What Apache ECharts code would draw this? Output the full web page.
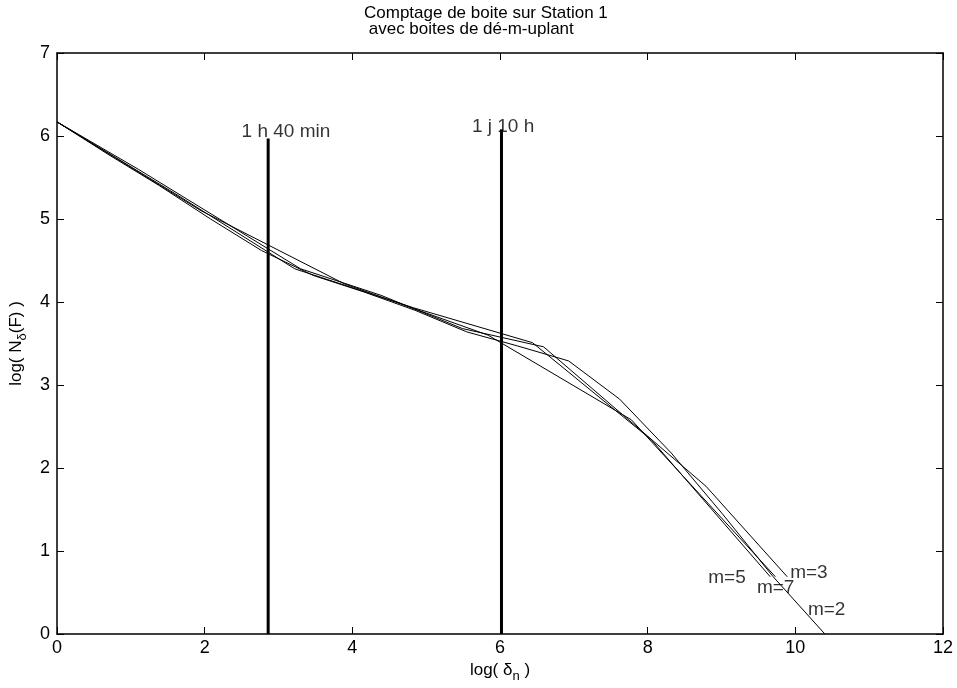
<!DOCTYPE html>
<html>
<head>
<meta charset="utf-8">
<script src="https://cdn.jsdelivr.net/npm/echarts@6/dist/echarts.min.js"></script>
<style>html,body{margin:0;padding:0;background:#fff}#c{width:957px;height:688px}</style>
</head>
<body>
<div id="c"></div>
<script>
// Series values: x = log(delta_n), y = log(N_delta(F))
const m2X = [0, 0.69, 1.39, 2.08, 2.77, 3.47, 4.16, 4.85, 5.55, 6.24, 6.93, 7.62, 8.32, 9.01, 9.70, 10.40];
const m2Y = [6.17, 5.78, 5.40, 5.00, 4.62, 4.32, 4.12, 3.90, 3.64, 3.47, 3.29, 2.83, 2.18, 1.45, 0.69, 0];
const m3X = [0, 1.10, 2.20, 3.30, 4.39, 5.49, 6.59, 7.69, 8.79, 9.89];
const m3Y = [6.17, 5.60, 5.00, 4.40, 4.08, 3.68, 3.46, 2.62, 1.78, 0.69];
const m5X = [0, 1.61, 3.22, 4.83, 6.44, 8.05, 9.66];
const m5Y = [6.17, 5.30, 4.40, 3.93, 3.51, 2.34, 0.69];
const m7X = [0, 1.95, 3.89, 5.84, 7.78, 9.73];
const m7Y = [6.17, 5.10, 4.22, 3.60, 2.58, 0.69];

// Marker lines (time scales)
const markerNames = ['1 h 40 min', '1 j 10 h'];
const markerX = [2.86, 6.02];
const markerTop = [5.97, 6.08];
const markerLabelX = [2.50, 5.62];
const markerLabelY = [6.05, 6.11];

// Curve labels
const curveLabels = ['m=5', 'm=7', 'm=3', 'm=2'];
const curveLabelX = [8.82, 9.48, 9.93, 10.17];
const curveLabelY = [0.68, 0.56, 0.74, 0.29];

const xTicks = [0, 2, 4, 6, 8, 10, 12];
const yTicks = [0, 1, 2, 3, 4, 5, 6, 7];

const FONT = 'Liberation Sans, Arial, Helvetica, sans-serif';
const zip = (xs, ys) => xs.map((x, i) => [x, ys[i]]);

const curveSeries = [[m2X, m2Y], [m3X, m3Y], [m5X, m5Y], [m7X, m7Y]].map(([xs, ys]) => ({
  type: 'line', data: zip(xs, ys), symbol: 'none', silent: true,
  lineStyle: { color: '#000', width: 1 }, z: 3, clip: true
}));

const markerSeries = markerX.map((x, i) => ({
  type: 'line', data: [[x, 0], [x, markerTop[i]]], symbol: 'none', silent: true,
  lineStyle: { color: '#000', width: 3 }, z: 4
}));

const textSeries = {
  type: 'scatter', symbolSize: 0, silent: true, z: 5,
  data: markerNames.map((n, i) => ({ value: [markerLabelX[i], markerLabelY[i]], name: n }))
    .concat(curveLabels.map((n, i) => ({ value: [curveLabelX[i], curveLabelY[i]], name: n }))),
  label: {
    show: true, position: 'inside', align: 'left', verticalAlign: 'middle',
    formatter: p => p.name, color: '#000', fontSize: 19, fontFamily: FONT,
    textBorderWidth: 0
  }
};

const axisCommon = {
  axisLine: { show: true, onZero: false, lineStyle: { color: '#000', width: 1.5 } },
  axisTick: { show: true, inside: true, length: 7, lineStyle: { color: '#000', width: 1 } },
  splitLine: { show: false }
};

const chart = echarts.init(document.getElementById('c'), null, { renderer: 'canvas' });
chart.setOption({
  animation: false,
  backgroundColor: '#fff',
  title: {
    text: 'Comptage de boite sur Station 1\n avec boites de dé-m-uplant',
    left: 359, top: 0,
    textStyle: { fontSize: 17, fontWeight: 'normal', color: '#000', fontFamily: FONT, lineHeight: 16 }
  },
  grid: { left: 57, right: 14, top: 53, bottom: 51 },
  xAxis: [
    Object.assign({
      type: 'value', min: xTicks[0], max: xTicks[xTicks.length - 1], interval: 2, position: 'bottom',
      axisLabel: { color: '#000', fontSize: 18, fontFamily: FONT, margin: 5 },
      name: '{a|log( δ}{s|n}{a| )}', nameLocation: 'middle', nameGap: 24,
      nameTextStyle: { rich: {
        a: { fontSize: 17, fontFamily: FONT, color: '#000' },
        s: { fontSize: 13, fontFamily: FONT, color: '#000', padding: [12, 0, 0, 0] }
      } }
    }, axisCommon),
    Object.assign({
      type: 'value', min: xTicks[0], max: xTicks[xTicks.length - 1], interval: 2, position: 'top',
      axisLabel: { show: false }
    }, axisCommon)
  ],
  yAxis: [
    Object.assign({
      type: 'value', min: yTicks[0], max: yTicks[yTicks.length - 1], interval: 1, position: 'left',
      axisLabel: { color: '#000', fontSize: 18, fontFamily: FONT, margin: 7 },
      name: '{a|log( N}{s|δ}{a|(F) )}', nameLocation: 'middle', nameGap: 14, nameRotate: 90,
      nameTextStyle: { rich: {
        a: { fontSize: 17, fontFamily: FONT, color: '#000' },
        s: { fontSize: 13, fontFamily: FONT, color: '#000', padding: [12, 0, 0, 0] }
      } }
    }, axisCommon),
    Object.assign({
      type: 'value', min: yTicks[0], max: yTicks[yTicks.length - 1], interval: 1, position: 'right',
      axisLabel: { show: false }
    }, axisCommon)
  ],
  series: curveSeries.concat(markerSeries, [textSeries])
});
</script>
</body>
</html>
